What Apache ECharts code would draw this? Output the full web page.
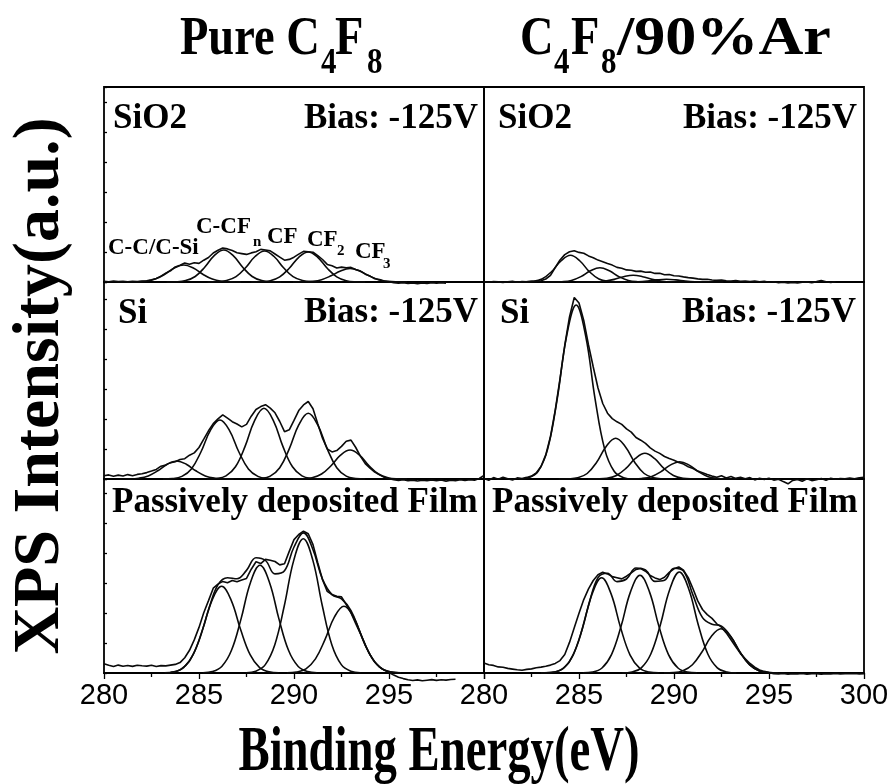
<!DOCTYPE html>
<html>
<head>
<meta charset="utf-8">
<title>C 1s XPS spectra</title>
<script src="https://cdn.jsdelivr.net/npm/echarts@6/dist/echarts.min.js"></script>
<style>
  html, body { margin: 0; padding: 0; background: #fff; }
  #chart { width: 896px; height: 784px; }
</style>
</head>
<body>
<div id="chart"></div>
<script>
// ---- Measured spectra (intensity in arbitrary units, 0.25 eV steps from 280 eV) ----
const ENERGY_START = 280;
const ENERGY_STEP = 0.25;

const pureSiO2Raw = [
  0.8, 0.3, 0.9, 0.4, 0.6, 0.2, 0.7, 0.5, 0.9, 1.2, 2.3, 3.6,
  5.9, 8.9, 11.2, 15.1, 16.8, 18.9, 17.8, 19.2, 18.6, 21.8, 24.5, 29.0,
  31.8, 33.9, 33.1, 31.4, 29.2, 28.4, 27.6, 29.1, 30.2, 32.6, 32.0, 31.1,
  28.0, 24.9, 21.8, 22.6, 24.8, 27.9, 30.6, 30.2, 29.8, 26.4, 22.5, 17.6,
  16.2, 14.0, 14.9, 14.1, 14.6, 12.4, 10.9, 7.8, 5.9, 3.2, 2.4, 0.9,
  0.3, -0.6, -1.2, -0.8, -1.5, -1.0, -1.6, -0.9, -1.4, -0.7, -1.3, -0.6, -1.1
];
const arSiO2Raw = [
  0.2, -0.3, 0.5, 0.1, -0.4, 0.3, 0.6, -0.2, 0.4, 0.1, 0.8, 0.6,
  1.2, 3.0, 6.7, 14.5, 22.0, 27.4, 30.2, 31.2, 29.6, 28.8, 26.1, 24.3,
  21.9, 20.2, 18.4, 16.9, 14.6, 13.8, 12.1, 11.8, 10.6, 10.9, 9.7, 9.9,
  8.6, 8.8, 7.2, 7.5, 6.3, 6.0, 5.1, 4.4, 3.9, 3.1, 2.6, 2.8,
  2.0, 1.6, 1.9, 1.2, 1.0, 1.4, 0.7, 1.0, 0.5, 0.9, 0.3, 0.6,
  -0.3, 0.2, -0.6, -0.2, -0.9, -0.4, -1.0, -0.3, 0.1, -0.6, 0.4, 1.5,
  0.2, -0.5, 0.3
];
const pureSiRaw = [
  3.2, 4.1, 2.8, 3.9, 3.0, 4.4, 3.3, 4.6, 5.2, 6.4, 7.9, 9.6,
  12.8, 14.1, 16.4, 17.2, 19.5, 20.3, 23.8, 26.1, 31.5, 39.8, 48.2, 55.4,
  60.1, 64.2, 60.8, 57.3, 55.0, 52.1, 54.6, 62.8, 69.5, 72.4, 74.3, 70.9,
  66.2, 57.5, 47.3, 49.2, 58.6, 68.4, 74.1, 77.5, 70.2, 55.3, 40.8, 30.2,
  27.1, 28.4, 32.6, 37.8, 38.9, 31.5, 22.6, 15.4, 10.8, 6.9, 4.1, 1.8,
  0.2, -0.6, -1.4, -0.8, -1.6, -1.1, -2.0, -1.3, -1.8, -0.9, -1.7, -1.0,
  -2.1, -1.2, -1.6, -0.7, -1.5, -0.8, -1.3, 0.5, 3.5
];
const arSiRaw = [
  0.5, -1.2, 1.4, -0.3, 1.8, 0.2, -0.9, 1.1, 0.4, 1.6, 2.9, 6.0,
  12.5, 24.1, 42.5, 68.9, 100.2, 133.5, 162.0, 181.5, 176.0, 158.5, 134.0, 112.0,
  91.0, 75.5, 65.8, 60.4, 57.2, 54.6, 50.1, 46.9, 41.5, 38.8, 35.6, 31.2,
  27.9, 25.6, 22.5, 20.4, 18.8, 16.6, 14.9, 12.2, 10.5, 7.9, 6.2, 4.4,
  2.9, 1.7, 3.2, 1.0, 2.4, 0.6, 1.8, 0.3, 1.4, -0.9, 0.7, -0.4,
  0.8, -1.1, -0.3, -2.6, -4.8, -1.4, -0.5, -2.2, 0.2, -1.6, -0.7, 0.5,
  -1.3, 0.7, -0.2, 0.5, 0.1, 0.9, 0.3, 1.1, 1.6
];
const pureFilmRaw = [
  9.3, 7.8, 6.4, 7.9, 6.8, 7.5, 6.6, 7.7, 7.2, 6.9, 7.8, 6.5,
  7.4, 7.1, 7.9, 8.6, 10.4, 15.3, 22.7, 33.1, 45.6, 60.2, 72.4, 84.8,
  88.9, 91.6, 90.2, 92.5, 91.3, 93.1, 94.6, 103.8, 111.2, 109.4, 113.6, 112.8,
  111.5, 108.1, 109.2, 121.6, 133.4, 138.5, 141.8, 139.2, 128.4, 110.3, 93.2, 81.6,
  78.4, 76.8, 76.2, 68.5, 60.1, 49.3, 39.2, 27.5, 18.4, 10.8, 6.2, 2.9,
  0.4, -2.1, -4.3, -5.6, -6.8, -7.5, -6.9, -7.8, -7.2, -6.6, -7.4, -6.8,
  -7.1, -6.5, -6.2
];
const arFilmRaw = [
  10.0, 8.2, 7.6, 6.1, 5.8, 4.6, 3.9, 3.2, 2.7, 3.6, 4.1, 5.3,
  5.9, 6.8, 7.9, 9.6, 12.4, 18.5, 30.6, 45.2, 59.8, 73.4, 84.1, 92.5,
  98.2, 100.8, 99.1, 96.4, 95.3, 94.1, 96.8, 100.2, 103.6, 104.5, 101.8, 97.5,
  95.1, 93.4, 95.8, 100.6, 104.2, 106.1, 102.8, 95.4, 84.2, 72.1, 63.5, 58.4,
  54.6, 49.2, 45.8, 40.1, 33.2, 26.1, 19.4, 14.2, 9.5, 5.8, 3.1, 1.6,
  0.4, -0.6, -0.9, -0.4, -1.2, -0.7, -1.0, -0.5, -1.3, -0.8, -0.6, -1.1,
  -0.7, -0.9, -0.4, -1.0, -0.6, -0.8, -0.5, -0.9, -0.6
];

// ---- Fitted components: peak centre (eV) and intensity at centre offsets ----
const COMPONENT_OFFSETS = [-3, -2.5, -2, -1.5, -1, -0.5, 0, 0.5, 1, 1.5, 2, 2.5, 3];

const pureSiO2Centers = [284.2, 286.3, 288.45, 290.75, 292.95];
const pureSiO2Peaks = [
  [0, 0.1, 0.7, 2.9, 7.8, 14.0, 17.0, 14.0, 7.8, 2.9, 0.7, 0.1, 0],
  [0, 0.2, 1.4, 5.5, 14.7, 26.3, 32.0, 26.3, 14.7, 5.5, 1.4, 0.2, 0],
  [0, 0.2, 1.4, 5.3, 14.2, 25.5, 31.0, 25.5, 14.2, 5.3, 1.4, 0.2, 0],
  [0, 0.2, 1.3, 5.2, 13.7, 24.7, 30.0, 24.7, 13.7, 5.2, 1.3, 0.2, 0],
  [0, 0.1, 0.6, 2.3, 6.2, 11.1, 13.5, 11.1, 6.2, 2.3, 0.6, 0.1, 0]
];
const arSiO2Centers = [284.55, 286.1, 287.85, 289.6];
const arSiO2Peaks = [
  [0, 0.1, 0.6, 3.0, 10.2, 21.0, 26.7, 21.0, 10.2, 3.0, 0.6, 0.1, 0],
  [0, 0, 0.3, 1.6, 5.4, 11.2, 14.3, 11.2, 5.4, 1.6, 0.3, 0, 0],
  [0, 0, 0.1, 0.8, 2.6, 5.3, 6.7, 5.3, 2.6, 0.8, 0.1, 0, 0],
  [0, 0, 0.1, 0.3, 1.0, 2.1, 2.7, 2.1, 1.0, 0.3, 0.1, 0, 0]
];
const pureSiCenters = [283.83, 286.1, 288.42, 290.75, 292.95];
const pureSiPeaks = [
  [0, 0.1, 0.8, 3.1, 8.2, 14.8, 18.0, 14.8, 8.2, 3.1, 0.8, 0.1, 0],
  [0, 0.4, 2.6, 10.1, 27.0, 48.6, 59.0, 48.6, 27.0, 10.1, 2.6, 0.4, 0],
  [0, 0.5, 3.1, 12.2, 32.4, 58.2, 70.7, 58.2, 32.4, 12.2, 3.1, 0.5, 0],
  [0, 0.5, 2.9, 11.3, 30.1, 54.1, 65.7, 54.1, 30.1, 11.3, 2.9, 0.5, 0],
  [0, 0.2, 1.3, 5.0, 13.3, 23.9, 29.0, 23.9, 13.3, 5.0, 1.3, 0.2, 0]
];
const arSiCenters = [284.85, 286.93, 288.47, 290.3];
const arSiPeaks = [
  [0, 1.3, 7.7, 29.9, 79.7, 143.2, 174.0, 143.2, 79.7, 29.9, 7.7, 1.3, 0],
  [0, 0.2, 1.2, 5.5, 16.7, 32.6, 40.7, 32.6, 16.7, 5.5, 1.2, 0.2, 0],
  [0, 0.1, 0.7, 3.5, 10.6, 20.6, 25.7, 20.6, 10.6, 3.5, 0.7, 0.1, 0],
  [0, 0.1, 0.5, 2.3, 7.1, 13.9, 17.3, 13.9, 7.1, 2.3, 0.5, 0.1, 0]
];
const pureFilmCenters = [286.19, 288.21, 290.49, 292.63];
const pureFilmPeaks = [
  [0.2, 1.1, 5.4, 18.3, 43.4, 72.9, 86.7, 72.9, 43.4, 18.3, 5.4, 1.1, 0.2],
  [0.2, 1.4, 6.8, 22.7, 53.9, 90.6, 107.7, 90.6, 53.9, 22.7, 6.8, 1.4, 0.2],
  [0.3, 1.8, 8.4, 28.3, 67.2, 112.9, 134.3, 112.9, 67.2, 28.3, 8.4, 1.8, 0.3],
  [0.1, 0.9, 4.2, 14.1, 33.4, 56.1, 66.7, 56.1, 33.4, 14.1, 4.2, 0.9, 0.1]
];
const arFilmCenters = [286.19, 288.21, 290.28, 292.47];
const arFilmPeaks = [
  [0.1, 0.9, 4.9, 17.9, 45.3, 79.1, 95.3, 79.1, 45.3, 17.9, 4.9, 0.9, 0.1],
  [0.1, 0.9, 5.0, 18.4, 46.4, 81.1, 97.7, 81.1, 46.4, 18.4, 5.0, 0.9, 0.1],
  [0.1, 1.0, 5.2, 19.0, 48.0, 83.8, 101.0, 83.8, 48.0, 19.0, 5.2, 1.0, 0.1],
  [0.1, 0.4, 2.3, 8.3, 21.0, 36.8, 44.3, 36.8, 21.0, 8.3, 2.3, 0.4, 0.1]
];

// ---- Fit envelopes (0.5 eV steps) ----
const FIT_STEP = 0.5;
const pureFilmFitStart = 283.5;
const pureFilmFit = [0.6, 3.1, 12.0, 32.5, 63.1, 88.3, 95.3, 94.2, 102.6, 115.3, 112.5, 99.1,
  102.2, 126.0, 140.1, 123.3, 93.9, 78.4, 74.1, 62.4, 39.8, 18.2, 5.9, 1.4, 0.2];
const arFilmFitStart = 283;
const arFilmFit = [0.1, 0.4, 2.7, 11.4, 33.3, 67.3, 95.4, 99.8, 91.4, 94.0, 105.0, 103.1, 91.6,
  92.7, 104.8, 101.9, 77.9, 55.4, 48.8, 46.9, 36.3, 20.1, 7.8, 2.1, 0.4, 0];

// ---- Axis ----
const energyTicks = [280, 285, 290, 295, 300];
const ENERGY_MIN = 280, ENERGY_MAX = 300;

// ---- helpers ----
const rawPairs = vals => vals.map((v, i) => [ENERGY_START + i * ENERGY_STEP, v]);
const peakPairs = (c, vals) => vals.map((v, i) => [c + COMPONENT_OFFSETS[i], v]);
const fitPairs = (start, vals) => vals.map((v, i) => [start + i * FIT_STEP, v]);

const INK = '#0a0a0a';
const LINE_W = 1.6;
const panels = [
  { raw: pureSiO2Raw, centers: pureSiO2Centers, peaks: pureSiO2Peaks },
  { raw: arSiO2Raw, centers: arSiO2Centers, peaks: arSiO2Peaks },
  { raw: pureSiRaw, centers: pureSiCenters, peaks: pureSiPeaks },
  { raw: arSiRaw, centers: arSiCenters, peaks: arSiPeaks },
  { raw: pureFilmRaw, centers: pureFilmCenters, peaks: pureFilmPeaks, fit: [pureFilmFitStart, pureFilmFit] },
  { raw: arFilmRaw, centers: arFilmCenters, peaks: arFilmPeaks, fit: [arFilmFitStart, arFilmFit] }
];

// panel frames: two columns x three rows
const colLeft = [104, 484];
const colWidth = 380;
const rowTop = [87, 282, 479];
const rowHeight = [195, 197, 194];

const grids = [], xAxes = [], yAxes = [], series = [];
panels.forEach((p, k) => {
  const col = k % 2, row = Math.floor(k / 2);
  const bottomRow = row === 2;
  grids.push({
    left: colLeft[col], top: rowTop[row], width: colWidth, height: rowHeight[row],
    show: true, borderColor: '#000', borderWidth: 1.8, backgroundColor: 'transparent'
  });
  xAxes.push({
    gridIndex: k, type: 'value', min: ENERGY_MIN, max: ENERGY_MAX, interval: 5,
    axisLine: { show: bottomRow, onZero: false, lineStyle: { color: '#000', width: 1.8 } },
    axisTick: { show: bottomRow, length: 6, lineStyle: { color: '#000', width: 1.3 } },
    minorTick: { show: bottomRow, splitNumber: 2, length: 4, lineStyle: { color: '#000', width: 1.3 } },
    axisLabel: {
      show: bottomRow, margin: 8, color: '#000', fontSize: 29,
      fontFamily: '"Liberation Sans", Arial, sans-serif',
      showMaxLabel: col === 1, showMinLabel: true,
      formatter: v => energyTicks.includes(v) ? String(v) : ''
    },
    splitLine: { show: false }
  });
  yAxes.push({
    gridIndex: k, type: 'value', min: 0, max: rowHeight[row], interval: 30,
    axisLine: { show: false },
    axisTick: { show: col === 0, inside: true, length: 3, lineStyle: { color: '#000', width: 1.3 } },
    axisLabel: { show: false },
    splitLine: { show: false }
  });
  const base = { type: 'line', xAxisIndex: k, yAxisIndex: k, showSymbol: false, symbol: 'none',
    clip: false, silent: true, animation: false };
  p.centers.forEach((c, j) => {
    series.push(Object.assign({}, base, {
      data: peakPairs(c, p.peaks[j]), smooth: 0.4,
      lineStyle: { color: INK, width: LINE_W }
    }));
  });
  if (p.fit) {
    series.push(Object.assign({}, base, {
      data: fitPairs(p.fit[0], p.fit[1]), smooth: 0.4,
      lineStyle: { color: INK, width: LINE_W }
    }));
  }
  series.push(Object.assign({}, base, {
    data: rawPairs(p.raw), smooth: false,
    lineStyle: { color: INK, width: LINE_W }
  }));
});

// ---- text ----
const SERIF = '"Liberation Serif", "Times New Roman", serif';
function txt(str, x, y, size, opt) {
  opt = opt || {};
  return {
    type: 'text', x: x, y: y, rotation: opt.rotation || 0,
    scaleX: opt.sx || 1, scaleY: opt.sy || 1, silent: true, z: 10,
    style: {
      text: str, x: 0, y: 0, fill: '#000',
      font: 'bold ' + size + 'px ' + SERIF,
      textAlign: opt.align || 'left', align: opt.align || 'left',
      textVerticalAlign: 'middle', verticalAlign: 'middle'
    }
  };
}

const graphics = [
  // column titles
  txt('Pure C', 180, 40, 54, { sx: 0.86 }),
  txt('4', 321, 64, 36, { sx: 0.86 }),
  txt('F', 335, 40, 54, { sx: 0.86 }),
  txt('8', 367, 64, 36, { sx: 0.86 }),
  txt('C', 520, 40, 54, { sx: 0.86 }),
  txt('4', 554, 64, 36, { sx: 0.86 }),
  txt('F', 571, 40, 54, { sx: 0.86 }),
  txt('8', 601, 64, 36, { sx: 0.86 }),
  txt('/90%Ar', 617, 40, 54, { sx: 1.15 }),
  // panel labels
  txt('SiO2', 113, 119, 35), txt('Bias: -125V', 478, 119, 35, { align: 'right' }),
  txt('SiO2', 498, 119, 35), txt('Bias: -125V', 857, 119, 35, { align: 'right' }),
  txt('Si', 118, 314, 35), txt('Bias: -125V', 478, 313, 35, { align: 'right' }),
  txt('Si', 500, 314, 35), txt('Bias: -125V', 856, 313, 35, { align: 'right' }),
  txt('Passively deposited Film', 112, 503, 35),
  txt('Passively deposited Film', 492, 503, 35),
  // component labels
  txt('C-C/C-Si', 108, 248, 23),
  txt('C-CF', 196, 227, 23), txt('n', 253, 242, 15),
  txt('CF', 267, 237, 23),
  txt('CF', 307, 240, 23), txt('2', 337, 251, 15),
  txt('CF', 355, 252, 23), txt('3', 383, 264, 15),
  // axis titles
  txt('Binding Energy(eV)', 439, 753, 64, { align: 'center', sx: 0.73 }),
  txt('XPS Intensity(a.u.)', 41, 386, 66, { align: 'center', rotation: Math.PI / 2 })
];

const chart = echarts.init(document.getElementById('chart'), null, { renderer: 'canvas' });
chart.setOption({
  backgroundColor: '#fff',
  animation: false,
  grid: grids,
  xAxis: xAxes,
  yAxis: yAxes,
  series: series,
  graphic: graphics
});
</script>
</body>
</html>
